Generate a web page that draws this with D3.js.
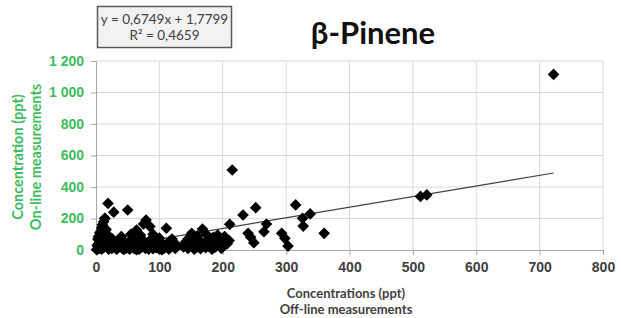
<!DOCTYPE html>
<html>
<head>
<meta charset="utf-8">
<script src="https://cdn.jsdelivr.net/npm/d3@7"></script>
<style>
  body { margin: 0; background: #fff; }
  svg { font-family: Lato, "Open Sans", sans-serif; }
  .grid line { stroke: #d9d9d9; stroke-width: 1; }
  .axis path, .axis line { stroke: #a6a6a6; }
  .axis text { font-weight: bold; font-size: 14px; }
</style>
</head>
<body>
<script>

// data: off-line (x) vs on-line (y) concentrations, ppt
var offline = [
    // column near zero
    2, 3, 4, 5, 6, 7, 8, 9, 10, 12, 14, 5, 8, 10, 12, 14, 15, 16, 11, 3, 6, 1, 2, 4, 17, 18, 13, 9, 7,
    // low band
    20, 22, 25, 28, 30, 33, 35, 38, 40, 42, 45, 48, 50, 53, 55, 58, 60, 62, 65, 68, 70, 72, 75, 78, 80,
    83, 85, 88, 90, 93, 95, 98, 100, 103, 105, 108, 112, 115, 118, 122, 125, 128, 24, 36, 46, 56, 66,
    76, 86, 96, 32, 44, 64, 84, 104, 116, 26, 18, 21,
    // upper scatter, left
    19, 28, 50, 79, 85, 75, 64, 111, 14, 90, 70, 40, 55, 100, 120,
    // middle cluster
    138, 142, 145, 148, 150, 151, 155, 158, 160, 163, 165, 168, 170, 173, 175, 178, 180, 183, 185, 188,
    190, 192, 195, 196, 198, 200, 203, 145, 160, 175, 185, 155, 165, 140, 207, 210,
    // right
    211, 215, 232, 252, 240, 244, 249, 269, 265, 293, 298, 303, 315, 326, 327, 338, 360, 512, 522, 722
];
var online = [
    5, 20, 40, 60, 80, 100, 120, 140, 160, 180, 200, 10, 30, 50, 70, 90, 110, 130, 150, 70, 110, 2, 30, 85, 60, 40, 20, 5, 15,
    5, 25, 10, 40, 15, 5, 30, 20, 50, 8, 25, 12, 40, 5, 20, 35, 10, 55, 25, 5, 40, 18, 60, 10, 30,
    5, 45, 20, 8, 35, 15, 50, 5, 25, 40, 12, 30, 5, 20, 45, 10, 28, 50, 60, 45, 70, 48,
    25, 65, 30, 8, 3, 2, 15, 2, 55, 70, 15, 85,
    296, 240, 254, 190, 150, 165, 127, 138, 201, 100, 95, 85, 100, 75, 70,
    20, 53, 10, 80, 30, 106, 5, 45, 20, 65, 8, 133, 35, 15, 55, 25, 76, 5, 40, 18,
    60, 95, 30, 74, 10, 50, 85, 70, 90, 95, 80, 60, 45, 40, 40, 60,
    163, 508, 222, 269, 106, 81, 46, 165, 116, 106, 74, 25, 286, 201, 152, 229, 106, 340, 350, 1115
];

var slope = 0.6749, intercept = 1.7799;
var equationLines = ["y = 0,6749x + 1,7799", "R² = 0,4659"];

var xTicks = [0, 100, 200, 300, 400, 500, 600, 700, 800];
var yTicks = [0, 200, 400, 600, 800, 1000, 1200];

var chartTitle = "β-Pinene";
var xTitle = ["Concentrations (ppt)", "Off-line measurements"];
var yTitle = ["Concentration (ppt)", "On-line measurements"];

var W = 621, H = 318;
var margin = {left: 96, top: 61, right: 18, bottom: 68};
var width = W - margin.left - margin.right,
    height = H - margin.top - margin.bottom;

var green = "#3dbb5e", dark = "#404040";

var svg = d3.select("body").append("svg")
    .attr("width", W)
    .attr("height", H);

var g = svg.append("g")
    .attr("transform", "translate(" + margin.left + "," + margin.top + ")");

var x = d3.scaleLinear().domain([0, 800]).range([0, width]);
var y = d3.scaleLinear().domain([0, 1200]).range([height, 0]);

var fmt = function(d) { return d3.format(",")(d).replace(",", " "); };

// gridlines
g.append("g").attr("class", "grid")
    .selectAll("line.v").data(xTicks.slice(1)).enter().append("line")
    .attr("x1", x).attr("x2", x).attr("y1", 0).attr("y2", height);
g.append("g").attr("class", "grid")
    .selectAll("line.h").data(yTicks.slice(1)).enter().append("line")
    .attr("y1", y).attr("y2", y).attr("x1", 0).attr("x2", width);

// axes
var gx = g.append("g")
    .attr("class", "axis x")
    .attr("transform", "translate(0," + height + ")")
    .call(d3.axisBottom(x).tickValues(xTicks).tickSize(5).tickSizeOuter(0).tickPadding(7).tickFormat(fmt));
gx.selectAll("text").attr("fill", dark);

var gy = g.append("g")
    .attr("class", "axis y")
    .call(d3.axisLeft(y).tickValues(yTicks).tickSize(5).tickSizeOuter(0).tickPadding(7).tickFormat(fmt));
gy.selectAll("text").attr("fill", green);

// trend line
var xs = d3.extent(offline);
g.append("line")
    .attr("x1", x(xs[0])).attr("y1", y(slope * xs[0] + intercept))
    .attr("x2", x(xs[1])).attr("y2", y(slope * xs[1] + intercept))
    .attr("stroke", "#404040")
    .attr("stroke-width", 1.2);

// points
var diamond = d3.symbol().type(d3.symbolSquare).size(68);
g.selectAll(".dot")
    .data(offline.map(function(d, i) { return [d, online[i]]; }))
    .enter().append("path")
    .attr("class", "dot")
    .attr("d", diamond)
    .attr("transform", function(d) { return "translate(" + x(d[0]) + "," + y(d[1]) + ") rotate(45)"; })
    .attr("fill", "#000");

// equation box
svg.append("rect")
    .attr("x", 97.5).attr("y", 6.5).attr("width", 134).attr("height", 41)
    .attr("fill", "#f2f2f2").attr("stroke", "#595959").attr("stroke-width", 1.5);
svg.selectAll(".eq").data(equationLines).enter().append("text")
    .attr("class", "eq")
    .attr("x", 164.5)
    .attr("y", function(d, i) { return 24 + i * 16; })
    .attr("text-anchor", "middle")
    .attr("font-size", "13.5px")
    .attr("fill", dark)
    .text(function(d) { return d; });

// title
svg.append("text")
    .attr("x", 373).attr("y", 44)
    .attr("text-anchor", "middle")
    .attr("font-size", "31px")
    .attr("font-weight", "bold")
    .attr("fill", "#111")
    .text(chartTitle);

// axis titles
svg.selectAll(".xt").data(xTitle).enter().append("text")
    .attr("class", "xt")
    .attr("x", 346)
    .attr("y", function(d, i) { return 298 + i * 16; })
    .attr("text-anchor", "middle")
    .attr("font-size", "13px")
    .attr("font-weight", "bold")
    .attr("fill", dark)
    .text(function(d) { return d; });

svg.selectAll(".yt").data(yTitle).enter().append("text")
    .attr("class", "yt")
    .attr("transform", function(d, i) { return "translate(" + (23 + i * 18) + ",157) rotate(-90)"; })
    .attr("text-anchor", "middle")
    .attr("font-size", "14.5px")
    .attr("font-weight", "bold")
    .attr("fill", green)
    .text(function(d) { return d; });

</script>
</body>
</html>
